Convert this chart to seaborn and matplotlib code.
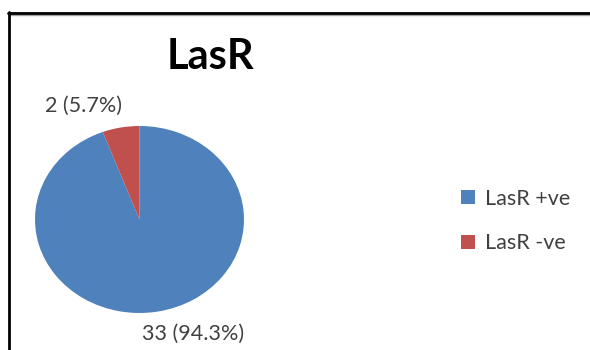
import matplotlib
matplotlib.use("Agg")
import matplotlib.pyplot as plt
from matplotlib.lines import Line2D
import seaborn as sns

# Data
categories = ["LasR +ve", "LasR -ve"]
counts = [33, 2]
title = "LasR"

sns.set_theme(style="white")
plt.rcParams["font.family"] = ["Lato", "DejaVu Sans"]

colors = ["#4F81BD", "#C0504D"]
W, H = 590, 350
fig = plt.figure(figsize=(W / 100, H / 100), dpi=100, facecolor="white")

# Pie axes (pixel box of the ellipse)
left, right, top, bottom = 35, 244, 126, 313
ax = fig.add_axes([left / W, (H - bottom) / H, (right - left) / W, (bottom - top) / H])
wedges, _ = ax.pie(counts, colors=colors, startangle=90, counterclock=False,
                   wedgeprops=dict(linewidth=0))
ax.set_aspect("auto")
ax.set_xlim(-1, 1)
ax.set_ylim(-1, 1)
ax.axis("off")

total = sum(counts)
label_pos = [(0.51, -1.22), (-0.54, 1.22)]
for c, (x, y) in zip(counts, label_pos):
    ax.text(x, y, f"{c} ({c / total * 100:.1f}%)", ha="center", va="center",
            fontsize=15.5, color="#404040", clip_on=False)

fig.text(210 / W, 1 - 57 / H, title, ha="center", va="center",
         fontsize=30, fontweight="bold", color="black")

fig.legend(wedges, categories, loc="center left",
           bbox_to_anchor=(442 / W, 1 - 221 / H), frameon=False,
           fontsize=15.5, labelcolor="#404040", handlelength=0.65,
           handleheight=0.65, handletextpad=0.45, labelspacing=1.15)

# Chart frame
fig.add_artist(Line2D([8 / W, 1], [1 - 15 / H, 1 - 15 / H], color="#a0a0a0", lw=1))
fig.add_artist(Line2D([8 / W, 1], [1 - 13 / H, 1 - 13 / H], color="black", lw=2))
fig.add_artist(Line2D([9 / W, 9 / W], [0, 1 - 12 / H], color="black", lw=2))

fig.savefig("out.png", dpi=100, facecolor="white")
